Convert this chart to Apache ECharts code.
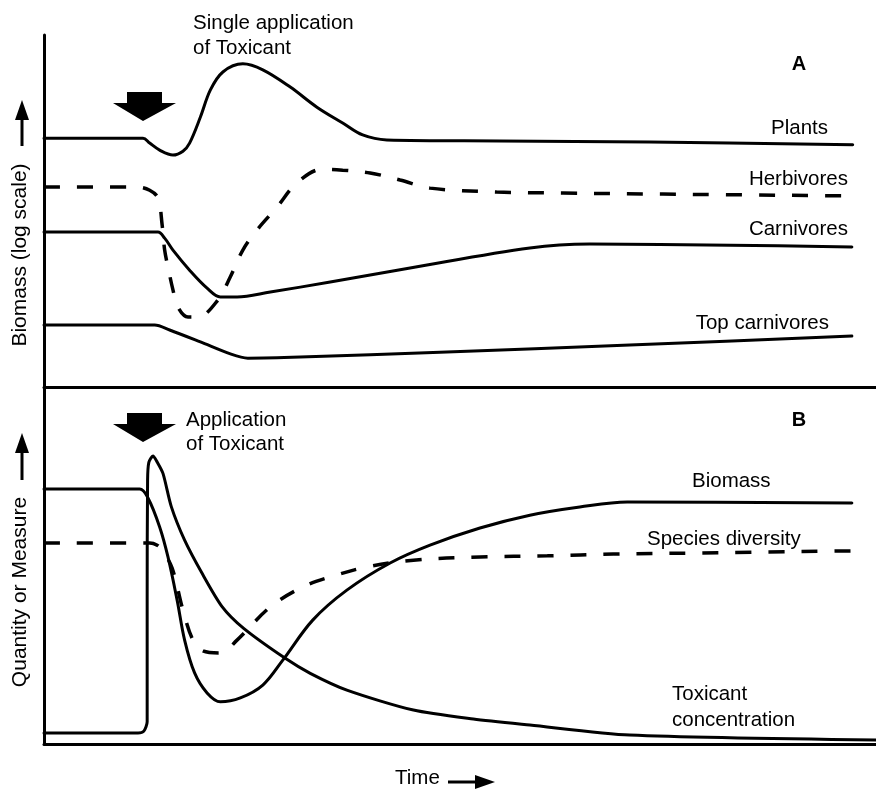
<!DOCTYPE html>
<html>
<head>
<meta charset="utf-8">
<script src="https://cdn.jsdelivr.net/npm/echarts@6/dist/echarts.min.js"></script>
<style>
html,body{margin:0;padding:0;background:#fff;}
#c{width:876px;height:791px;}
</style>
</head>
<body>
<div id="c"></div>
<script>
// Time axis 0..100 (arbitrary units), values 0..100 (arbitrary units)
// Panel A: Biomass (log scale)
const plants = [[0,70.7],[11.9,70.7],[12.7,69.3],[13.9,67.3],[15.5,65.9],[16.7,67.0],[17.5,69.3],[18.8,76.7],[20.0,84.4],[21.5,89.5],[23.9,91.8],[26.3,90.1],[29.6,85.2],[32.8,79.5],[35.9,75.0],[38.3,71.6],[41.2,70.2],[54.8,69.9],[72.8,69.6],[97.2,68.8]];
const herbivores = [[0,56.8],[11.2,56.8],[12.7,55.9],[13.7,53.7],[14.2,46.0],[14.5,38.9],[14.9,34.1],[15.5,27.6],[16.1,22.7],[17.3,19.9],[18.5,19.9],[20.9,24.7],[22.4,31.3],[23.9,38.9],[25.6,44.6],[28.0,51.1],[30.4,58.0],[33.5,61.9],[35.9,61.6],[39.2,60.8],[42.8,58.8],[46.4,56.5],[54.4,55.4],[62.4,55.1],[74.4,54.8],[96.6,54.3]];
const carnivores = [[0,44.0],[13.7,44.0],[14.5,42.3],[15.5,38.9],[17.5,33.2],[19.6,28.1],[21.2,25.6],[23.2,25.6],[27.2,27.0],[34.4,29.8],[44.0,33.8],[58.4,39.5],[65.6,40.6],[82.5,40.3],[97.1,39.8]];
const topCarnivores = [[0,17.6],[13.3,17.6],[15.1,16.2],[18.8,12.8],[22.4,9.4],[24.5,8.2],[30.8,8.5],[47.6,9.9],[70.4,11.9],[97.1,14.5]];
// Panel B: Quantity or Measure
const biomass = [[0,71.4],[11.5,71.4],[12.5,68.9],[13.9,60.8],[14.9,52.4],[16.0,40.3],[16.9,29.1],[18.1,19.9],[19.6,14.3],[21.2,11.8],[23.6,12.9],[26.3,16.5],[28.7,23.5],[32.3,34.7],[36.4,43.1],[41.6,50.7],[46.4,55.7],[52.4,60.5],[58.4,64.1],[64.4,66.4],[70.1,67.8],[97.1,67.5]];
const toxicant = [[0,3.1],[11.3,3.1],[12.0,3.6],[12.4,6.2],[12.4,40.3],[12.45,73.9],[12.6,78.9],[13.1,80.7],[13.6,79.0],[14.3,75.8],[15.3,66.5],[16.9,57.1],[19.0,47.8],[21.4,38.5],[24.0,32.4],[29.0,24.0],[32.0,19.8],[36.4,15.1],[44.4,9.5],[51.6,7.0],[58.4,5.3],[70.4,2.5],[100,1.1]];
const diversity = [[0,56.3],[12.7,56.3],[13.6,55.7],[14.2,54.3],[15.4,49.3],[16.7,37.5],[17.9,29.1],[19.1,26.1],[21.2,25.5],[23.2,29.1],[27.2,38.4],[31.1,44.0],[34.4,46.8],[38.8,49.6],[44.4,51.5],[52.4,52.4],[60.5,52.7],[68.4,53.2],[78.8,53.5],[97.1,54.1]];

const FONT = '"Liberation Sans", Arial, Helvetica, sans-serif';
const FS = '20.5px ';
const solid = {color:'#000', width:3, type:'solid', cap:'round', join:'round'};
const dashed = {color:'#000', width:3.5, type:[16,17]};

function line(name, data, xi, style, smooth){
  return {name, type:'line', xAxisIndex:xi, yAxisIndex:xi, data, showSymbol:false, symbol:'none',
    smooth: smooth, lineStyle: style, silent:true, animation:false, z:3};
}
function axX(gi){return {type:'value', gridIndex:gi, min:0, max:100, axisLine:{show:true, lineStyle:{color:'#000', width:3}}, axisTick:{show:false}, axisLabel:{show:false}, splitLine:{show:false}};}
function axY(gi){return {type:'value', gridIndex:gi, min:0, max:100, axisLine:{show:true, lineStyle:{color:'#000', width:3}}, axisTick:{show:false}, axisLabel:{show:false}, splitLine:{show:false}};}
function txt(s, x, y, align){
  return {type:'text', x, y, style:{text:s, fill:'#000', font:FS+FONT, textAlign:align||'left', textVerticalAlign:'middle'}, z:10};
}
function boldTxt(s,x,y){ return {type:'text', x, y, style:{text:s, fill:'#000', font:'bold 20px '+FONT, textAlign:'center', textVerticalAlign:'middle'}, z:10}; }
function downArrow(cx, top){
  return {type:'polygon', shape:{points:[[cx-16,top],[cx+19,top],[cx+19,top+11],[cx+33,top+11],[cx,top+29],[cx-30,top+11],[cx-16,top+11]]}, style:{fill:'#000'}, z:10};
}
function upArrow(cx, tip, bottom){
  return [
    {type:'line', shape:{x1:cx, y1:bottom, x2:cx, y2:tip+16}, style:{stroke:'#000', lineWidth:3}, z:10},
    {type:'polygon', shape:{points:[[cx,tip],[cx+7,tip+20],[cx-7,tip+20]]}, style:{fill:'#000'}, z:10}
  ];
}

const chart = echarts.init(document.getElementById('c'));
chart.setOption({
  animation:false,
  backgroundColor:'#fff',
  grid:[{left:44, top:35, width:832, height:352}, {left:44, top:387, width:832, height:357}],
  xAxis:[axX(0), axX(1)],
  yAxis:[axY(0), axY(1)],
  series:[
    line('Plants', plants, 0, solid, 0.35),
    line('Herbivores', herbivores, 0, dashed, 0.35),
    line('Carnivores', carnivores, 0, solid, 0.35),
    line('Top carnivores', topCarnivores, 0, solid, 0.3),
    line('Biomass', biomass, 1, solid, 0.35),
    line('Toxicant concentration', toxicant, 1, solid, 0.25),
    line('Species diversity', diversity, 1, dashed, 0.35)
  ],
  graphic:[
    txt('Single application', 193, 23),
    txt('of Toxicant', 193, 48),
    boldTxt('A', 799, 64),
    txt('Plants', 828, 128, 'right'),
    txt('Herbivores', 848, 179, 'right'),
    txt('Carnivores', 848, 229, 'right'),
    txt('Top carnivores', 829, 323, 'right'),
    downArrow(143, 92),
    txt('Application', 186, 420),
    txt('of Toxicant', 186, 444),
    boldTxt('B', 799, 420),
    txt('Biomass', 692, 481),
    txt('Species diversity', 647, 539),
    txt('Toxicant', 672, 694),
    txt('concentration', 672, 720),
    downArrow(143, 413),
    {type:'text', x:20, y:255, rotation:Math.PI/2, style:{text:'Biomass (log scale)', fill:'#000', font:'21px '+FONT, textAlign:'center', textVerticalAlign:'middle'}, z:10},
    {type:'text', x:20, y:592, rotation:Math.PI/2, style:{text:'Quantity or Measure', fill:'#000', font:'21px '+FONT, textAlign:'center', textVerticalAlign:'middle'}, z:10},
    ...upArrow(22, 100, 146),
    ...upArrow(22, 433, 480),
    txt('Time', 395, 778),
    {type:'line', shape:{x1:448, y1:782, x2:480, y2:782}, style:{stroke:'#000', lineWidth:3}, z:10},
    {type:'polygon', shape:{points:[[495,782],[475,775],[475,789]]}, style:{fill:'#000'}, z:10}
  ]
});
</script>
</body>
</html>
